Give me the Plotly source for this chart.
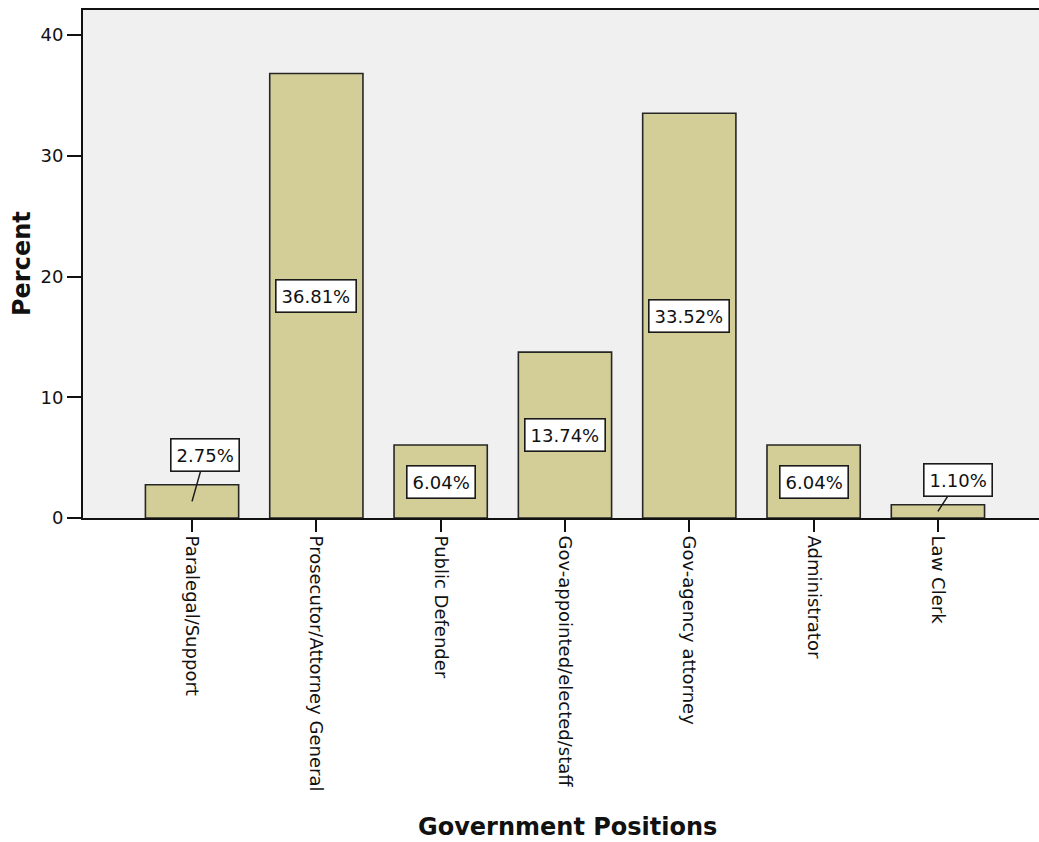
import plotly.graph_objects as go

# Government positions, percent of respondents
categories = [
    "Paralegal/Support",
    "Prosecutor/Attorney General",
    "Public Defender",
    "Gov-appointed/elected/staff",
    "Gov-agency attorney",
    "Administrator",
    "Law Clerk",
]
percents = [2.75, 36.81, 6.04, 13.74, 33.52, 6.04, 1.10]
y_ticks = [0, 10, 20, 30, 40]

BAR_FILL = "#D3CE97"
BAR_EDGE = "#262626"
PLOT_BG = "#F0F0F0"
FONT = "DejaVu Sans"

x_idx = list(range(len(categories)))

fig = go.Figure()
fig.add_trace(
    go.Bar(
        x=x_idx,
        y=percents,
        width=0.75,
        marker=dict(color=BAR_FILL, line=dict(color=BAR_EDGE, width=1.6)),
        hoverinfo="skip",
    )
)

# Percent labels: centred in tall bars, lifted above short ones with a leader line
callout_offsets = {0: (13, -46), 6: (20, -31)}
for i, v in enumerate(percents):
    label = f"{v:.2f}%"
    common = dict(
        x=i,
        y=v / 2,
        xref="x",
        yref="y",
        text=label,
        font=dict(family=FONT, size=18, color="#111111"),
        bgcolor="white",
        bordercolor="#1a1a1a",
        borderwidth=1.6,
        borderpad=5,
    )
    if i in callout_offsets:
        ax, ay = callout_offsets[i]
        fig.add_annotation(
            **common,
            showarrow=True,
            arrowhead=0,
            arrowwidth=1.5,
            arrowcolor="#1a1a1a",
            ax=ax,
            ay=ay,
        )
    else:
        fig.add_annotation(**common, showarrow=False)

# Axis titles
fig.add_annotation(
    text="Percent",
    xref="paper",
    yref="paper",
    x=(22 - 83) / 956,
    y=0.5,
    xanchor="center",
    yanchor="middle",
    textangle=-90,
    showarrow=False,
    font=dict(family=FONT, size=24, color="#111111", weight="bold"),
)
fig.add_annotation(
    text="Government Positions",
    xref="paper",
    yref="paper",
    x=(567 - 83) / 956,
    y=-(827 - 518) / 508,
    xanchor="center",
    yanchor="middle",
    showarrow=False,
    font=dict(family=FONT, size=24, color="#111111", weight="bold"),
)

fig.update_layout(
    width=1039,
    height=842,
    margin=dict(l=83, r=0, t=10, b=324),
    paper_bgcolor="white",
    plot_bgcolor=PLOT_BG,
    showlegend=False,
    bargap=0.25,
)

fig.update_xaxes(
    range=[-0.877, 6.813],
    tickmode="array",
    tickvals=x_idx,
    ticktext=categories,
    tickangle=90,
    ticks="outside",
    ticklen=12,
    tickwidth=1.5,
    tickcolor="#111111",
    tickfont=dict(family=FONT, size=18, color="#111111"),
    ticklabelstandoff=0,
    showline=True,
    linecolor="#111111",
    linewidth=2,
    mirror=True,
    showgrid=False,
    zeroline=False,
)

fig.update_yaxes(
    range=[0, 42.07],
    tickmode="array",
    tickvals=y_ticks,
    ticks="outside",
    ticklen=14,
    tickwidth=1.5,
    tickcolor="#111111",
    tickfont=dict(family=FONT, size=18, color="#111111"),
    ticklabelstandoff=0,
    showline=True,
    linecolor="#111111",
    linewidth=2,
    showgrid=False,
    zeroline=False,
)

fig.write_html("out.html", config={"displayModeBar": False})
